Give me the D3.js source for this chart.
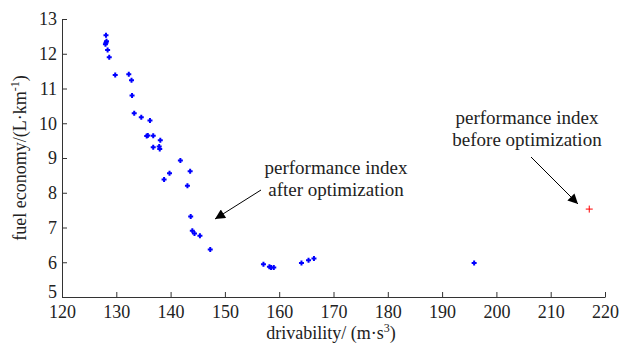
<!DOCTYPE html>
<html>
<head>
<meta charset="utf-8">
<script src="https://cdn.jsdelivr.net/npm/d3@7"></script>
<style>
  body { margin: 0; background: #fff; }
  text { font-family: "Liberation Serif", "Times New Roman", serif; fill: #222; }
</style>
</head>
<body>
<div id="chart"></div>
<script>
// optimized solutions (blue) - drivability vs fuel economy
const drivability = [128.1, 128.2, 128.0, 128.1, 128.4, 128.7, 129.8, 132.3, 132.8, 132.9,
  133.3, 134.6, 136.2, 135.6, 135.8, 136.8, 138.1, 136.8, 137.9, 138.0,
  141.8, 143.6, 139.8, 138.8, 143.1, 143.7, 144.0, 144.4, 145.4, 147.3,
  157.1, 158.2, 158.5, 159.0, 164.1, 165.4, 166.4, 195.9];
const fuelEconomy = [12.53, 12.36, 12.27, 12.32, 12.11, 11.9, 11.39, 11.41, 11.24, 10.8,
  10.29, 10.17, 10.08, 9.63, 9.65, 9.64, 9.51, 9.31, 9.33, 9.26,
  8.93, 8.62, 8.56, 8.38, 8.2, 7.32, 6.91, 6.83, 6.76, 6.37,
  5.94, 5.87, 5.85, 5.85, 5.98, 6.06, 6.11, 5.98];

// original design (red)
const beforeX = [217.1];
const beforeY = [7.53];

const xTicks = [120, 130, 140, 150, 160, 170, 180, 190, 200, 210, 220];
const yTicks = [5, 6, 7, 8, 9, 10, 11, 12, 13];

const width = 627, height = 346;
const margin = {top: 19, right: 22, bottom: 49, left: 62};

const svg = d3.select('#chart').append('svg')
  .attr('width', width)
  .attr('height', height);

const x = d3.scaleLinear().domain([120, 220]).range([margin.left, width - margin.right]);
const y = d3.scaleLinear().domain([5, 13]).range([height - margin.bottom, margin.top]);

// axes, ticks pointing inward
const xAxis = svg.append('g')
  .attr('transform', `translate(0,${height - margin.bottom})`)
  .call(d3.axisBottom(x).tickValues(xTicks).tickSizeInner(-5).tickSizeOuter(0).tickPadding(8));
const yAxis = svg.append('g')
  .attr('transform', `translate(${margin.left},0)`)
  .call(d3.axisLeft(y).tickValues(yTicks).tickSizeInner(-5).tickSizeOuter(0).tickPadding(5));

[xAxis, yAxis].forEach(g => {
  g.select('.domain').attr('stroke', '#333').attr('stroke-width', 1);
  g.selectAll('.tick line').attr('stroke', '#333');
  g.selectAll('.tick text')
    .style('font-family', '"Liberation Serif", serif')
    .style('font-size', '18px')
    .attr('fill', '#222');
});
xAxis.selectAll('.tick text').attr('dy', '0.72em');
// the lowest y label sits just above the x labels
yAxis.selectAll('.tick text').filter(d => d === 5).attr('dy', '0.02em');

// axis titles
const xt = svg.append('text')
  .attr('x', 331)
  .attr('y', 339)
  .attr('text-anchor', 'middle')
  .style('font-size', '18px')
  .text('drivability/ (m·s');
xt.append('tspan').attr('dy', -7).style('font-size', '12px').text('3');
xt.append('tspan').attr('dy', 7).text(')');

const yt = svg.append('text')
  .attr('transform', `translate(26,${(margin.top + height - margin.bottom) / 2}) rotate(-90)`)
  .attr('text-anchor', 'middle')
  .style('font-size', '18px')
  .text('fuel economy/(L·km');
yt.append('tspan').attr('dy', -7).style('font-size', '12px').text('-1');
yt.append('tspan').attr('dy', 7).text(')');

// markers
const plusPath = s => `M${-s},0H${s}M0,${-s}V${s}`;

svg.append('g').selectAll('path')
  .data(drivability)
  .join('path')
  .attr('transform', (d, i) => `translate(${x(d)},${y(fuelEconomy[i])})`)
  .attr('d', plusPath(2.5))
  .attr('stroke', '#0000ff')
  .attr('stroke-width', 2)
  .attr('fill', 'none');

svg.append('g').selectAll('path')
  .data(beforeX)
  .join('path')
  .attr('transform', (d, i) => `translate(${x(d)},${y(beforeY[i])})`)
  .attr('d', plusPath(3.5))
  .attr('stroke', '#ff0000')
  .attr('stroke-width', 1)
  .attr('fill', 'none');

// annotations
svg.append('defs').append('marker')
  .attr('id', 'arrow')
  .attr('viewBox', '0 0 10 10')
  .attr('refX', 10).attr('refY', 5)
  .attr('markerWidth', 12).attr('markerHeight', 10)
  .attr('markerUnits', 'userSpaceOnUse')
  .attr('orient', 'auto')
  .append('path')
  .attr('d', 'M0,0L10,5L0,10z')
  .attr('fill', '#000');

const notes = [
  {lines: ['performance index', 'after optimization'], tx: 336, ty: 174, from: [261, 190], to: [215, 219]},
  {lines: ['performance index', 'before optimization'], tx: 527, ty: 124, from: [531, 157], to: [578, 204]}
];

notes.forEach(n => {
  n.lines.forEach((l, i) => {
    svg.append('text')
      .attr('x', n.tx)
      .attr('y', n.ty + i * 22)
      .attr('text-anchor', 'middle')
      .style('font-size', '19px')
      .text(l);
  });
  svg.append('line')
    .attr('x1', n.from[0]).attr('y1', n.from[1])
    .attr('x2', n.to[0]).attr('y2', n.to[1])
    .attr('stroke', '#000')
    .attr('stroke-width', 1)
    .attr('marker-end', 'url(#arrow)');
});
</script>
</body>
</html>
